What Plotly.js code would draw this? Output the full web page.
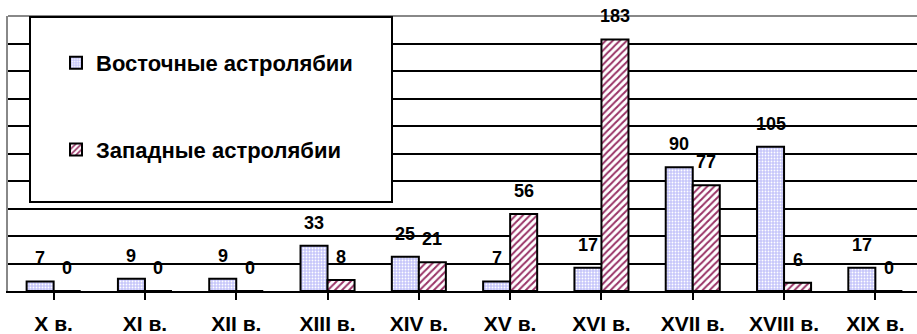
<!DOCTYPE html>
<html>
<head>
<meta charset="utf-8">
<script src="https://cdn.plot.ly/plotly-3.0.1.min.js"></script>
<style>html,body{margin:0;padding:0;background:#fff;}#chart{width:917px;height:334px;}</style>
</head>
<body>
<div id="chart"></div>
<script>
const categories = ["X в.", "XI в.", "XII в.", "XIII в.", "XIV в.", "XV в.", "XVI в.", "XVII в.", "XVIII в.", "XIX в."];
const eastName = "Восточные астролябии";
const westName = "Западные астролябии";
const eastValues = [7, 9, 9, 33, 25, 7, 17, 90, 105, 17];
const westValues = [0, 0, 0, 8, 21, 56, 183, 77, 6, 0];

const labelFont = {family: "'Liberation Sans', Arial, sans-serif", size: 18, color: "#000", weight: "bold"};
const tickFont = {family: "'Liberation Sans', Arial, sans-serif", size: 21, color: "#000", weight: "bold"};
const legendFont = {family: "'Liberation Sans', Arial, sans-serif", size: 22, color: "#000", weight: "bold"};

const L = 8, T = 16, W = 917, H = 334, B = 43;
const plotW = W - L, plotH = H - T - B;
const catPx = 91.3;
const xMax = -0.5 + plotW / catPx;
const halfBar = catPx * (1 - 0.408) / 4;

const traces = [
  {type: "bar", name: eastName, x: categories.map((c, i) => i), y: eastValues, legendgroup: "e",
   marker: {color: "#c9c9fb", line: {color: "#000", width: 2},
            pattern: {shape: ".", fgcolor: "#ffffff", bgcolor: "#c6c6fa", size: 3, solidity: 0.3}},
   hoverinfo: "none"},
  {type: "bar", name: westName, x: categories.map((c, i) => i), y: westValues, legendgroup: "w",
   marker: {color: "#ffffff", line: {color: "#000", width: 2},
            pattern: {shape: "/", fgcolor: "#993366", bgcolor: "#ffffff", size: 5, solidity: 0.4}},
   hoverinfo: "none"}
];

const annotations = [];
eastValues.forEach((v, i) => annotations.push({x: i, y: v, xref: "x", yref: "y", text: String(v), showarrow: false,
  xshift: -halfBar, yshift: 11, yanchor: "bottom", font: labelFont}));
westValues.forEach((v, i) => annotations.push({x: i, y: v, xref: "x", yref: "y", text: String(v), showarrow: false,
  xshift: halfBar, yshift: 11, yanchor: "bottom", font: labelFont}));

const px2x = p => (p - L) / plotW;
const px2y = p => (H - B - p) / plotH;

const layout = {
  width: W, height: H,
  margin: {l: L, r: 0, t: T, b: B, pad: 0},
  paper_bgcolor: "#fff", plot_bgcolor: "#fff",
  barmode: "group", bargap: 0.408, bargroupgap: 0,
  showlegend: true,
  legend: {x: px2x(56), y: px2y(42), xanchor: "left", yanchor: "top", bgcolor: "rgba(0,0,0,0)",
           borderwidth: 0, font: legendFont, traceorder: "grouped", tracegroupgap: 55},
  xaxis: {range: [-0.5, xMax], tickmode: "array", tickvals: categories.map((c, i) => i), ticktext: categories,
          tickfont: tickFont, showgrid: false, zeroline: false, showline: true, linecolor: "#000", linewidth: 2,
          ticks: "outside", tickson: "boundaries", ticklen: 7, tickwidth: 2, tickcolor: "#000",
          ticklabelstandoff: 6, fixedrange: true},
  yaxis: {range: [0, 200], dtick: 20, tick0: 0, showticklabels: false, showgrid: true, gridcolor: "#000", gridwidth: 2,
          zeroline: false, showline: true, linecolor: "#888", linewidth: 2, ticks: "", fixedrange: true},
  shapes: [
    {type: "line", xref: "paper", yref: "paper", x0: 0, x1: 1, y0: 1, y1: 1, line: {color: "#888", width: 2}, layer: "above"},
    {type: "rect", xref: "paper", yref: "paper", x0: px2x(30), x1: px2x(392), y0: px2y(202), y1: px2y(17),
     fillcolor: "#fff", line: {color: "#000", width: 2}, layer: "above"}
  ],
  annotations: annotations
};

Plotly.newPlot("chart", traces, layout, {displayModeBar: false, staticPlot: true});
</script>
</body>
</html>
